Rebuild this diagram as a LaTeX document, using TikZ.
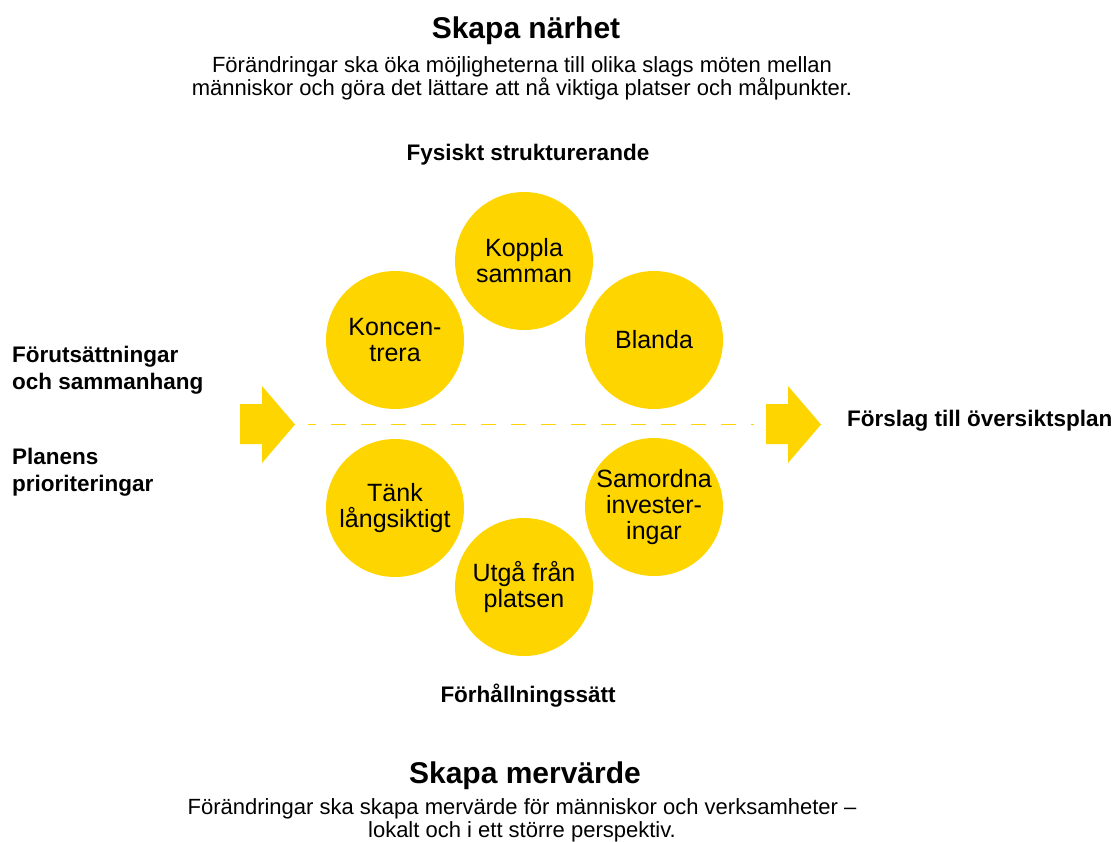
\documentclass[tikz,border=0pt]{standalone}
\usepackage{fontspec}
\setmainfont{Liberation Sans}
\usepackage{tikz}
\usetikzlibrary{positioning}

\definecolor{gul}{RGB}{255,213,0}

\tikzset{
	ring/.style={circle,fill=gul,minimum size=138pt,inner sep=0pt,align=center,font=\fontsize{25}{26}\selectfont},
	rubrik/.style={font=\fontsize{30}{34}\selectfont\bfseries,anchor=base},
	ingress/.style={font=\fontsize{22}{23}\selectfont,align=center,anchor=base},
	etikett/.style={font=\fontsize{22.5}{27}\selectfont\bfseries,inner sep=0pt},
}

\begin{document}
\begin{tikzpicture}[x=1pt,y=-1pt]
	\useasboundingbox (0,0) rectangle (1118,841);

	% rubriker
	\node[rubrik] (narhet) at (526,38){Skapa närhet};
	\node[ingress] (narhettext) at (522,95){Förändringar ska öka möjligheterna till olika slags möten mellan\\människor och göra det lättare att nå viktiga platser och målpunkter.};
	\node[etikett,anchor=base] (fysiskt) at (528,160){Fysiskt strukturerande};
	\node[etikett,anchor=base] (forhall) at (528,702){Förhållningssätt};
	\node[rubrik] (mervarde) at (525,783){Skapa mervärde};
	\node[ingress] (mervardetext) at (522,837){Förändringar ska skapa mervärde för människor och verksamheter --\\lokalt och i ett större perspektiv.};

	% cirklar
	\node[ring] (koppla) at (524,261){Koppla\\samman};
	\node[ring] (konc) at (395,340){Koncen-\\trera};
	\node[ring] (blanda) at (654,340){Blanda};
	\node[ring] (tank) at (395,508){Tänk\\långsiktigt};
	\node[ring] (samordna) at (654,507){Samordna\\invester-\\ingar};
	\node[ring] (utga) at (524,587){Utgå från\\platsen};

	% pilar
	\fill[gul] (240,404) -- (262,404) -- (262,386) -- (295,424.5) -- (262,463) -- (262,444) -- (240,444) -- cycle;
	\coordinate (ltip) at (295,424.5);
	\fill[gul] (766,404) -- (788,404) -- (788,386) -- (821,424.5) -- (788,463) -- (788,444) -- (766,444) -- cycle;
	\coordinate (rbas) at (766,424.5);
	\draw[gul,line width=1.5pt,dash pattern=on 15pt off 15pt,dash phase=7pt,shorten <=13pt,shorten >=12pt] (ltip) -- (rbas);

	% sidoetiketter
	\node[etikett,align=left,anchor=west] (forut) at (12,370){Förutsättningar\\och sammanhang};
	\node[etikett,align=left,anchor=west] (planens) at (12,472){Planens\\prioriteringar};
	\node[etikett,anchor=base west] (forslag) at (847,426){Förslag till översiktsplan};
\end{tikzpicture}
\end{document}
